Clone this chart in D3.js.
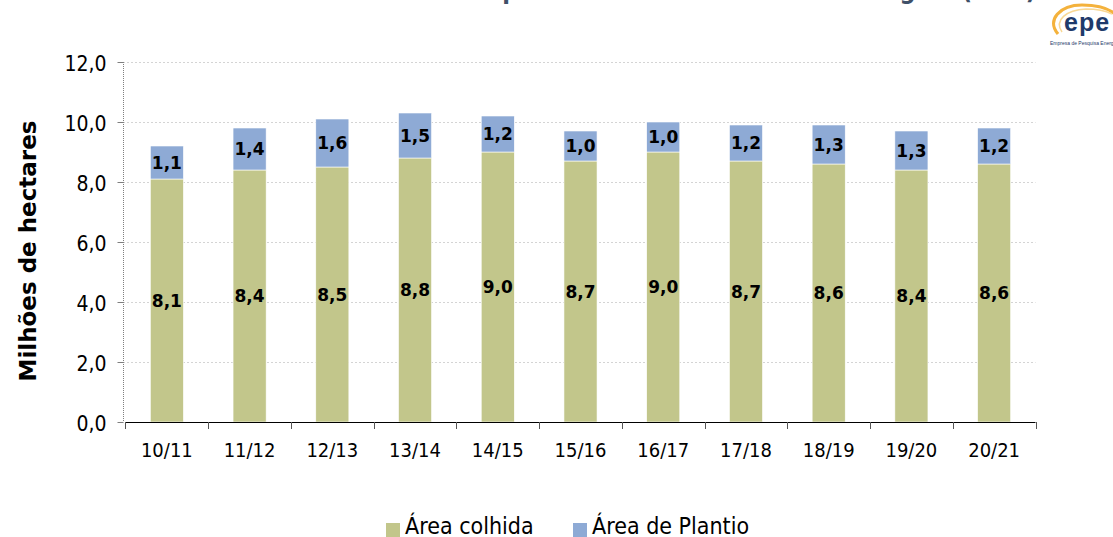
<!DOCTYPE html>
<html>
<head>
<meta charset="utf-8">
<script src="https://cdn.jsdelivr.net/npm/d3@7"></script>
<style>
  html, body { margin: 0; padding: 0; background: #fff; }
  svg { display: block; }
  text { font-family: "DejaVu Sans Condensed", "DejaVu Sans", sans-serif; font-stretch: condensed; }
  .wide { font-family: "DejaVu Sans", sans-serif; font-stretch: normal; }
</style>
</head>
<body>
<svg id="chart" width="1113" height="537"></svg>
<script>
const categories = ["10/11","11/12","12/13","13/14","14/15","15/16","16/17","17/18","18/19","19/20","20/21"];
const areaColhida = [8.1, 8.4, 8.5, 8.8, 9.0, 8.7, 9.0, 8.7, 8.6, 8.4, 8.6];
const areaPlantio = [1.1, 1.4, 1.6, 1.5, 1.2, 1.0, 1.0, 1.2, 1.3, 1.3, 1.2];
const yTicks = [0, 2, 4, 6, 8, 10, 12];
const seriesNames = ["Área colhida", "Área de Plantio"];
const seriesColors = ["#c2c68b", "#8eaad5"];
const titleText = "Área de plantio e colhida de cana na Região (Mha)";
const yTitle = "Milhões de hectares";

const svg = d3.select("#chart");
const fmt = v => d3.format(".1f")(v).replace(".", ",");

const x = d3.scaleBand().domain(categories).range([125.5, 1035.5]).paddingInner(0.6).paddingOuter(0.3);
const y = d3.scaleLinear().domain([0, 12]).range([422, 62]);

// Title (cropped at top edge, as in the reference)
svg.append("text").attr("x", 1036).attr("y", -1).attr("text-anchor", "end")
  .attr("font-size", 25).attr("font-weight", "bold").attr("fill", "#3f5068").text(titleText);

// gridlines
svg.append("g").selectAll("line").data(yTicks.filter(d => d > 0)).join("line")
  .attr("x1", 123).attr("x2", 1035.5).attr("y1", d => Math.round(y(d)) + 0.5).attr("y2", d => Math.round(y(d)) + 0.5)
  .attr("stroke", "#d4d4d4").attr("stroke-dasharray", "2,2");

// y axis (dotted)
svg.append("line").attr("x1", 123.5).attr("x2", 123.5).attr("y1", y(12)).attr("y2", y(0))
  .attr("stroke", "#7f7f7f").attr("stroke-dasharray", "1,1");
const yAxis = d3.axisLeft(y).tickValues(yTicks).tickSize(6).tickFormat(fmt);
const yg = svg.append("g").attr("transform", "translate(123.5,0)").call(yAxis);
yg.select(".domain").remove();
yg.selectAll(".tick line").attr("stroke", "#7f7f7f");
yg.selectAll(".tick text").attr("font-size", 21).attr("fill", "#000").attr("x", -17).attr("dy", "0.4em")
  .style("font-family", null);

// bars
const stacks = categories.map((c, i) => ({c, v: [areaColhida[i], areaPlantio[i]]}));
const bars = svg.append("g");
stacks.forEach(s => {
  let base = 0;
  s.v.forEach((v, k) => {
    bars.append("rect").attr("x", x(s.c)).attr("width", x.bandwidth())
      .attr("y", y(base + v)).attr("height", y(base) - y(base + v))
      .attr("fill", seriesColors[k]).attr("stroke", "#fff").attr("stroke-width", 0.6);
    bars.append("text").attr("class", "wide").attr("x", x(s.c) + x.bandwidth() / 2).attr("y", (y(base) + y(base + v)) / 2)
      .attr("dy", "0.38em").attr("text-anchor", "middle").attr("font-size", 17).attr("font-weight", "bold")
      .attr("fill", "#000").text(fmt(v));
    base += v;
  });
});

// x axis
const step = x.step();
const bounds = categories.map(c => x(c) - step * x.paddingInner() / 2).concat([x(categories[categories.length - 1]) + x.bandwidth() + step * x.paddingInner() / 2]);
const xg = svg.append("g");
xg.append("line").attr("x1", bounds[0]).attr("x2", bounds[bounds.length - 1]).attr("y1", 422.5).attr("y2", 422.5).attr("stroke", "#000");
xg.selectAll("line.t").data(bounds).join("line").attr("class", "t")
  .attr("x1", d => Math.round(d) + 0.5).attr("x2", d => Math.round(d) + 0.5).attr("y1", 422).attr("y2", 429).attr("stroke", "#555");
xg.selectAll("text").data(categories).join("text")
  .attr("x", d => x(d) + x.bandwidth() / 2).attr("y", 457).attr("text-anchor", "middle")
  .attr("font-size", 20).attr("fill", "#000").text(d => d);

// y title
svg.append("text").attr("class", "wide").attr("transform", "translate(36,251) rotate(-90)").attr("text-anchor", "middle")
  .attr("font-size", 23).attr("font-weight", "bold").attr("fill", "#000").text(yTitle);

// legend
const lx = [386, 573];
seriesNames.forEach((n, k) => {
  svg.append("rect").attr("x", lx[k]).attr("y", 523).attr("width", 14).attr("height", 14).attr("fill", seriesColors[k]);
  svg.append("text").attr("x", lx[k] + 19).attr("y", 534).attr("font-size", 23).attr("fill", "#000").text(n);
});

// logo
const logo = svg.append("g");
logo.append("path").attr("d", "M1058,34 C1046,20 1060,5 1082,5 C1098,5 1110,9 1116,15")
  .attr("fill", "none").attr("stroke", "#f4b23c").attr("stroke-width", 3.2);
logo.append("path").attr("d", "M1062,32 C1054,20 1066,10 1086,9 C1098,9 1106,11 1112,14")
  .attr("fill", "none").attr("stroke", "#f9d894").attr("stroke-width", 1.5);
logo.append("text").attr("x", 1064).attr("y", 31).attr("font-size", 25).attr("font-weight", "bold")
  .attr("letter-spacing", 1).attr("fill", "#1f3a6b").style("font-family", "'Liberation Sans', Arial, sans-serif").text("epe");
logo.append("text").attr("x", 1050).attr("y", 45).attr("font-size", 5).attr("fill", "#1f3a6b")
  .style("font-family", "'Liberation Sans', Arial, sans-serif").text("Empresa de Pesquisa Energética");
</script>
</body>
</html>
